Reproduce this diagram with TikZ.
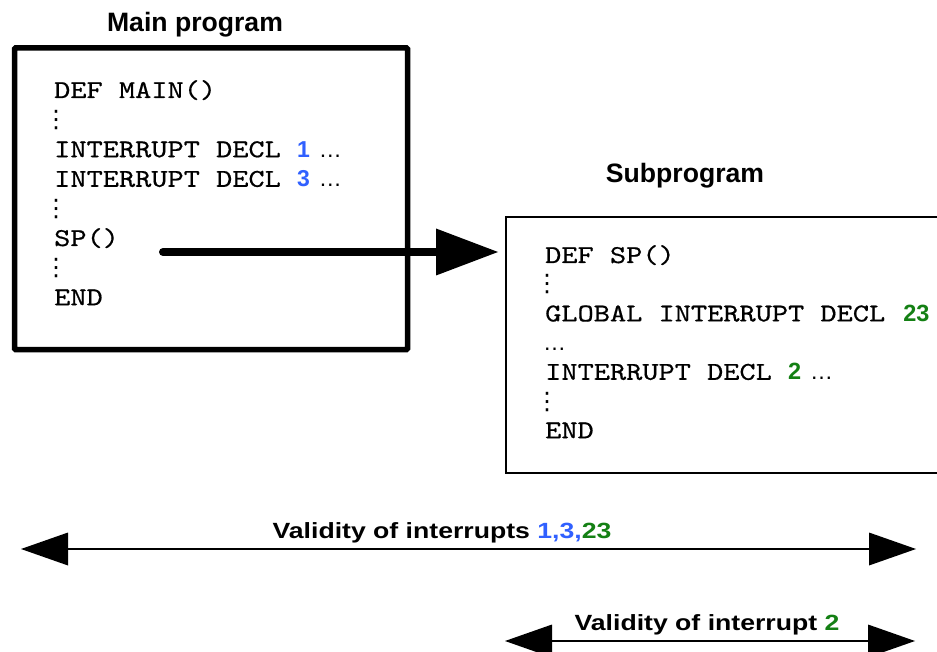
\documentclass[tikz,border=0pt]{standalone}
\usepackage{fontspec}
\setmainfont{Liberation Sans}
\newfontfamily\monofont[FakeStretch=1.2,FakeBold=0.6,Extension=.otf]{lmmono10-regular}
\newfontfamily\labfont[FakeStretch=1.21]{Liberation Sans}
\newfontfamily\symfont{DejaVu Sans}
\usetikzlibrary{arrows.meta}
\definecolor{numblue}{RGB}{48,96,255}
\definecolor{numgreen}{RGB}{20,128,20}
\newcommand{\mytt}[1]{{\fontsize{25.7}{30}\monofont #1}}
\newcommand{\numblu}[1]{{\fontsize{23}{28}\selectfont\bfseries\color{numblue}#1}}
\newcommand{\numgrn}[1]{{\fontsize{23.5}{28}\selectfont\bfseries\color{numgreen}#1}}
\newcommand{\myell}{{\fontsize{23}{28}\selectfont …}}
\newcommand{\myvd}{{\fontsize{24}{28}\symfont ⋮}}
\tikzset{
  codeline/.style={anchor=base west, inner sep=0pt},
  vd/.style={anchor=base, inner sep=0pt},
  titletext/.style={anchor=base, inner sep=0pt, font=\fontsize{26.6}{30}\selectfont\bfseries},
  labtext/.style={anchor=base, inner sep=0pt, font=\fontsize{22}{26}\labfont\bfseries},
  thickbox/.style={draw, line width=5.5pt, rounded corners=1pt, inner sep=0pt},
  thinbox/.style={draw, line width=2pt, inner sep=0pt},
  bigtip/.tip={Triangle[length=62pt,width=47pt,line width=0pt]},
  smalltip/.tip={Triangle[length=47pt,width=33pt,line width=0pt]},
}
\begin{document}
\begin{tikzpicture}[x=1pt,y=-1pt]
\useasboundingbox (0,0) rectangle (937,652);
% titles
\node[titletext] (tmain) at (195,32) {Main program};
\node[titletext] (tsub) at (685,183) {Subprogram};
% boxes
\node[thickbox, minimum width=393pt, minimum height=301.5pt] (main) at (211,198.75) {};
\node[thinbox, minimum width=474pt, minimum height=255.5pt] (sub) at (743,345.25) {};
% main code
\node[codeline] (m1) at (54,98) {\mytt{DEF MAIN()}};
\node[vd] (m2) at (56,128) {\myvd};
\node[codeline] (m3) at (54,157.2) {\mytt{INTERRUPT DECL }\numblu{1}\hspace{9pt}\myell};
\node[codeline] (m4) at (54,186.8) {\mytt{INTERRUPT DECL }\numblu{3}\hspace{9pt}\myell};
\node[vd] (m5) at (56,217) {\myvd};
\node[codeline] (m6) at (54,246) {\mytt{SP()}};
\node[vd] (m7) at (56,276) {\myvd};
\node[codeline] (m8) at (54,305.2) {\mytt{END}};
% sub code
\node[codeline] (s1) at (545,263) {\mytt{DEF SP()}};
\node[vd] (s2) at (547,292) {\myvd};
\node[codeline] (s3) at (545,321.4) {\mytt{GLOBAL INTERRUPT DECL }\hspace{2pt}\numgrn{23}};
\node[codeline] (s4) at (543,350.6) {\myell};
\node[codeline] (s5) at (545,379.8) {\mytt{INTERRUPT DECL }\numgrn{2}\hspace{9pt}\myell};
\node[vd] (s6) at (547,409) {\myvd};
\node[codeline] (s7) at (545,438.2) {\mytt{END}};
% call arrow
\coordinate (spcall) at (163,252);
\draw[line width=8pt, line cap=round, -{bigtip}, shorten >=7pt] (spcall) -- (spcall -| sub.west);
% validity arrows
\coordinate (v1l) at (21,549);
\coordinate (v1r) at (916,549);
\draw[line width=2.5pt, {smalltip}-{smalltip}] (v1l) -- (v1r);
\node[labtext] (l1) at (442,538) {Validity of interrupts {\color{numblue}1,3,}{\color{numgreen}23}};
\coordinate (v2l) at (505,641);
\coordinate (v2r) at (915,641);
\draw[line width=2.5pt, {smalltip}-{smalltip}] (v2l) -- (v2r);
\node[labtext] (l2) at (707,630) {Validity of interrupt {\color{numgreen}2}};
\end{tikzpicture}
\end{document}
